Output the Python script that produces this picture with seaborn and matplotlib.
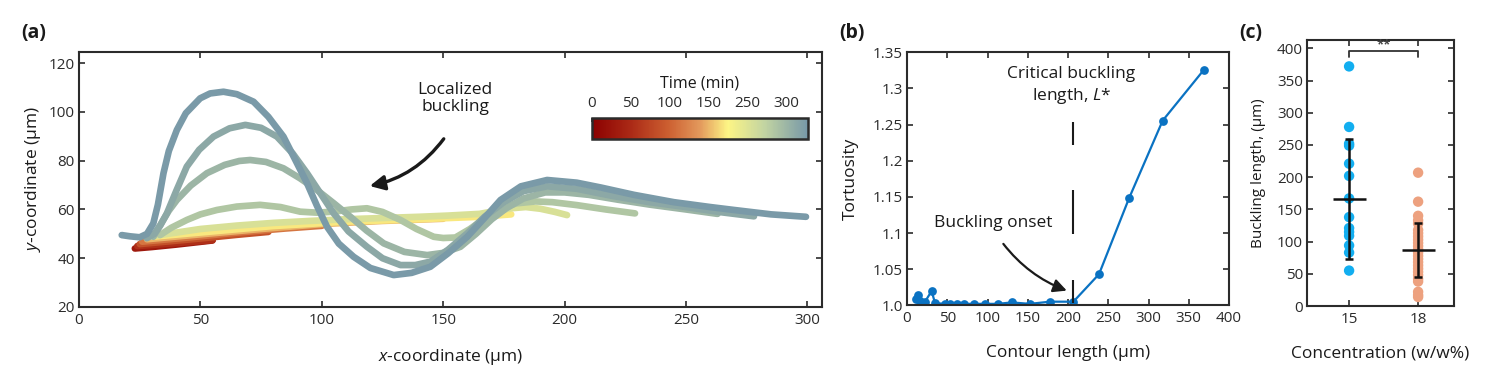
import numpy as np
import pandas as pd
import matplotlib
matplotlib.use("Agg")
import matplotlib.pyplot as plt
import seaborn as sns
from matplotlib.colors import LinearSegmentedColormap, Normalize
from matplotlib.cm import ScalarMappable

# ---------------- data ----------------
# panel (a): filament shapes at successive times (colour position on time bar)
curve_times = [10, 30, 55, 85, 115, 150, 170, 205, 235, 250, 262, 275]
curve_x = [
    [29, 35, 41],
    [23, 30, 40, 48, 55],
    [24, 35, 45, 55],
    [25, 38, 52, 65, 78],
    [26, 45, 65, 85, 100],
    [28, 50, 75, 100, 125, 150],
    [30, 55, 80, 110, 140, 165, 178],
    [31, 40, 50, 65, 80, 95, 110, 125, 140, 152, 165, 172, 178, 184, 190, 196, 201],
    [33.4, 38, 44.4, 50, 56.8, 65, 74.6, 83, 91.1, 98, 104.9, 112, 118.6, 125, 132.4,
     139, 146.1, 150, 155, 161, 168, 174, 180, 188, 195, 205, 217, 229],
    [30.6, 34, 37, 40.3, 46, 52.7, 60, 66, 70.5, 77, 84.2, 91, 98, 105, 111.8, 118.5,
     125.5, 134, 143.4, 150, 157.1, 163.5, 170, 176, 183, 192, 200, 210, 222, 235, 250, 263],
    [27.9, 31, 33.5, 36.2, 40, 44.4, 49.5, 55.4, 62, 68.5, 75, 81.5, 88, 93.9, 99.5,
     104.9, 111, 118.6, 125, 132.4, 138.5, 144.7, 152, 159.9, 167, 175, 183, 192.8,
     205, 220, 235, 250, 265, 278],
    [17.6, 21, 25, 28, 30.6, 32.5, 34.8, 37, 40.3, 44, 49.9, 54, 59.5, 65, 71.9, 78,
     84.2, 89, 93.9, 98, 102.1, 107, 113.1, 120, 129.6, 137, 144.7, 152, 159.9, 167,
     173.6, 182, 192.8, 205, 215, 228.6, 245, 260, 269.8, 285, 299.4],
]
curve_y = [
    [49.6, 49.8, 50.0],
    [44.0, 44.6, 45.6, 46.5, 47.3],
    [45.0, 45.8, 46.6, 47.4],
    [45.8, 47.0, 48.3, 49.6, 50.8],
    [46.8, 48.5, 50.5, 52.2, 53.3],
    [47.8, 49.8, 52.0, 54.0, 55.3, 56.2],
    [48.8, 51.0, 53.2, 55.0, 56.0, 57.0, 58.0],
    [49.2, 50.5, 52, 53.4, 54.5, 55.3, 56, 56.5, 57, 57.5, 58.2, 59.5, 60.5, 61, 60.3, 59, 57.7],
    [49.5, 52.5, 55.7, 58, 59.8, 61.2, 61.9, 61, 59.1, 58.7, 59.1, 60, 60.5, 59, 55.7,
     52, 48.8, 48.3, 48.5, 52, 57, 60.5, 62.5, 63.3, 63, 61.8, 60, 58.4],
    [48.8, 54.5, 59.5, 63.9, 69.8, 74.9, 78.3, 79.9, 80.3, 79.5, 76.9, 72.8, 68, 62.5,
     57, 51.3, 46.1, 42.6, 41.3, 42.2, 44.7, 50, 56, 60.5, 64.5, 67, 67, 66, 64, 62, 60, 58.2],
    [48.2, 50, 53.5, 58.4, 67.5, 77.6, 84.5, 89.9, 93.3, 94.7, 93.5, 89.9, 83, 74.9,
     66.5, 58.4, 51, 44.7, 40, 37.2, 37.2, 38.6, 43.5, 50.2, 57, 63, 67.5, 69.5, 68.5,
     65.5, 63, 61, 58.8, 57.2],
    [49.5, 49, 48.6, 50, 54.3, 62, 74.9, 84, 92.6, 99.5, 105.6, 107.6, 108.3, 107.3,
     104.2, 98, 89.9, 80.5, 70.8, 61.5, 53, 46, 40.6, 36, 33.1, 34, 36.5, 42, 48.8,
     56.5, 63.9, 69.5, 72.1, 71, 69, 66, 63, 61, 59.8, 58, 57],
]
cbar_tick_pos = [0, 50, 100, 150, 200, 250]
cbar_tick_labels = ["0", "50", "100", "150", "250", "300"]

# panel (b): tortuosity vs contour length
contour_len = [11.2, 14, 16, 22.4, 30.6, 34.8, 47, 53, 62, 71.4, 83, 97, 113, 130,
               152.6, 177.6, 206.7, 238.5, 275.8, 317.6, 368.6]
tortuosity = [1.0083, 1.0142, 1.006, 1.005, 1.0198, 1.003, 1.002, 1.002, 1.002, 1.002,
              1.002, 1.002, 1.002, 1.004, 1.002, 1.005, 1.005, 1.043, 1.148, 1.2555, 1.3255]
critical_length = 206.7

# panel (c): buckling length vs concentration
conc_labels = ["15", "18"]
buck_15 = [372, 278, 252, 249, 221, 202, 167, 138, 121, 115, 109, 94, 83, 55]
buck_18 = [207, 162, 140, 133, 128, 118, 113, 108, 103, 98, 93, 88, 83, 78, 73, 68,
           63, 58, 53, 48, 42, 38, 22, 17, 14]
buck_mean = [166, 87]
buck_sd = [93, 42]

# ---------------- style ----------------
sns.set_theme(style="ticks")
plt.rcParams["font.family"] = ["Open Sans", "DejaVu Sans"]
plt.rcParams.update({
    "mathtext.fontset": "custom",
    "mathtext.it": "Open Sans:italic",
    "mathtext.rm": "Open Sans",
    "xtick.direction": "in", "ytick.direction": "in",
    "xtick.top": True, "ytick.right": True,
    "xtick.major.size": 4, "ytick.major.size": 4,
    "xtick.major.width": 1.2, "ytick.major.width": 1.2,
    "axes.linewidth": 1.5, "axes.edgecolor": "#2b2b2b",
    "xtick.color": "#2b2b2b", "ytick.color": "#2b2b2b",
    "text.color": "#1a1a1a", "axes.labelcolor": "#1a1a1a",
    "xtick.labelsize": 11, "ytick.labelsize": 11,
    "xtick.major.pad": 4, "ytick.major.pad": 3,
})

cmap = LinearSegmentedColormap.from_list("time", [
    (0.0, "#8b0000"), (0.18, "#ab2a16"), (0.35, "#cc5e30"), (0.5, "#e3995c"),
    (0.63, "#fdf585"), (0.8, "#c2d4a2"), (1.0, "#7798a8")])
norm = Normalize(0, 278)

W, H = 1489, 372
fig = plt.figure(figsize=(W / 100, H / 100), dpi=100)


def px_axes(l, t, r, b):
    return fig.add_axes([l / W, 1 - b / H, (r - l) / W, (b - t) / H])


# ---------------- panel (a) ----------------
axa = px_axes(79, 52, 822, 307)
rows = []
for i, (t, xs, ys) in enumerate(zip(curve_times, curve_x, curve_y)):
    for x, y in zip(xs, ys):
        rows.append({"curve": i, "time": t, "x": x, "y": y})
dfa = pd.DataFrame(rows)
sns.lineplot(data=dfa, x="x", y="y", hue="time", units="curve", estimator=None,
             sort=False, palette=cmap, hue_norm=norm, linewidth=4.8, legend=False,
             ax=axa, solid_capstyle="round", solid_joinstyle="round")
axa.set_xlim(0, 306)
axa.set_ylim(20, 124.6)
axa.set_xticks(np.arange(0, 301, 50))
axa.set_yticks(np.arange(20, 121, 20))
axa.set_xlabel("$x$-coordinate (µm)", fontsize=12.5, labelpad=14)
axa.set_ylabel("$y$-coordinate (µm)", fontsize=12.5, labelpad=4)
axa.annotate("", xy=(118.6, 69.4), xytext=(150.9, 89.9),
             arrowprops=dict(arrowstyle="-|>", connectionstyle="arc3,rad=-0.2",
                             color="#1a1a1a", lw=2.4, mutation_scale=22))
axa.text(155, 105.5, "Localized\nbuckling", ha="center", va="center",
         fontsize=12.5, linespacing=1.15)

cax = axa.inset_axes([(592 - 79) / 743, (307 - 139) / 255, 216 / 743, 21 / 255])
cb = fig.colorbar(ScalarMappable(norm=norm, cmap=cmap), cax=cax, orientation="horizontal")
cb.set_ticks(cbar_tick_pos)
cb.set_ticklabels(cbar_tick_labels)
cax.xaxis.set_ticks_position("top")
cax.xaxis.set_label_position("top")
cax.tick_params(axis="x", direction="in", length=3, labelsize=11, pad=5, top=True, bottom=False)
cb.set_label("Time (min)", fontsize=11.5, labelpad=6)
cb.outline.set_linewidth(1.8)
cb.outline.set_edgecolor("#2b2b2b")

# ---------------- panel (b) ----------------
axb = px_axes(907, 52.3, 1229, 305.3)
dfb = pd.DataFrame({"L": contour_len, "T": tortuosity})
sns.lineplot(data=dfb, x="L", y="T", color="#0a72c2", marker="o", markersize=6.3,
             markeredgewidth=0, linewidth=1.6, ax=axb, sort=False)
axb.set_xlim(0, 400)
axb.set_ylim(1.0, 1.35)
axb.set_xticks(np.arange(0, 401, 50))
axb.set_yticks([1.0, 1.05, 1.1, 1.15, 1.2, 1.25, 1.3, 1.35])
axb.set_yticklabels(["1.0", "1.05", "1.1", "1.15", "1.2", "1.25", "1.3", "1.35"])
axb.set_xlabel("Contour length (µm)", fontsize=12.5, labelpad=14)
axb.set_ylabel("Tortuosity", fontsize=12.5, labelpad=10)
for y0, y1 in [(1.222, 1.254), (1.099, 1.159), (1.003, 1.035)]:
    axb.vlines(critical_length, y0, y1, color="#1a1a1a", lw=1.5)
axb.text(204, 1.3036, "Critical buckling\nlength, $L$*", ha="center", va="center",
         fontsize=12.5, linespacing=1.25)
axb.text(33.5, 1.1135, "Buckling onset", ha="left", va="center", fontsize=12.5)
axb.annotate("", xy=(201.7, 1.019), xytext=(117.6, 1.088),
             arrowprops=dict(arrowstyle="-|>", connectionstyle="arc3,rad=0.15",
                             color="#1a1a1a", lw=1.6, mutation_scale=20))

# ---------------- panel (c) ----------------
axc = px_axes(1307, 40, 1454, 306)
dfc = pd.DataFrame({
    "conc": [conc_labels[0]] * len(buck_15) + [conc_labels[1]] * len(buck_18),
    "len": buck_15 + buck_18})
sns.stripplot(data=dfc, x="conc", y="len", hue="conc", jitter=False,
              palette=["#12aef0", "#eda17f"], size=7.5, linewidth=0, legend=False,
              ax=axc, order=conc_labels, zorder=2)
pos = np.arange(len(conc_labels))
axc.errorbar(pos, buck_mean, yerr=buck_sd, fmt="none", ecolor="#111111",
             elinewidth=1.8, capsize=3, capthick=1.8, zorder=3)
axc.hlines(buck_mean, pos - 0.24, pos + 0.24, color="#111111", lw=1.8, zorder=3)
axc.plot([0, 0, 1, 1], [387, 395.7, 395.7, 387], color="#333333", lw=1.3)
axc.text(0.5, 405, "**", ha="center", va="center", fontsize=9.5, color="#444444",
         fontweight="bold")
axc.set_xlim(-0.61, 1.52)
axc.set_ylim(0, 413)
axc.set_yticks(np.arange(0, 401, 50))
axc.set_xlabel("Concentration (w/w%)", fontsize=12.5, labelpad=14)
axc.set_ylabel("Buckling length, (µm)", fontsize=11, labelpad=8)
axc.tick_params(top=True, right=True, direction="in")

for ax in (axa, axb, axc):
    for s in ax.spines.values():
        s.set_visible(True)
        s.set_linewidth(1.5)
        s.set_color("#2b2b2b")

# panel labels
for lab, xpx in [("(a)", 34), ("(b)", 852), ("(c)", 1251)]:
    fig.text(xpx / W, 1 - 33 / H, lab, fontsize=14, fontweight="bold",
             ha="center", va="center")

fig.savefig("out.png", dpi=100)
